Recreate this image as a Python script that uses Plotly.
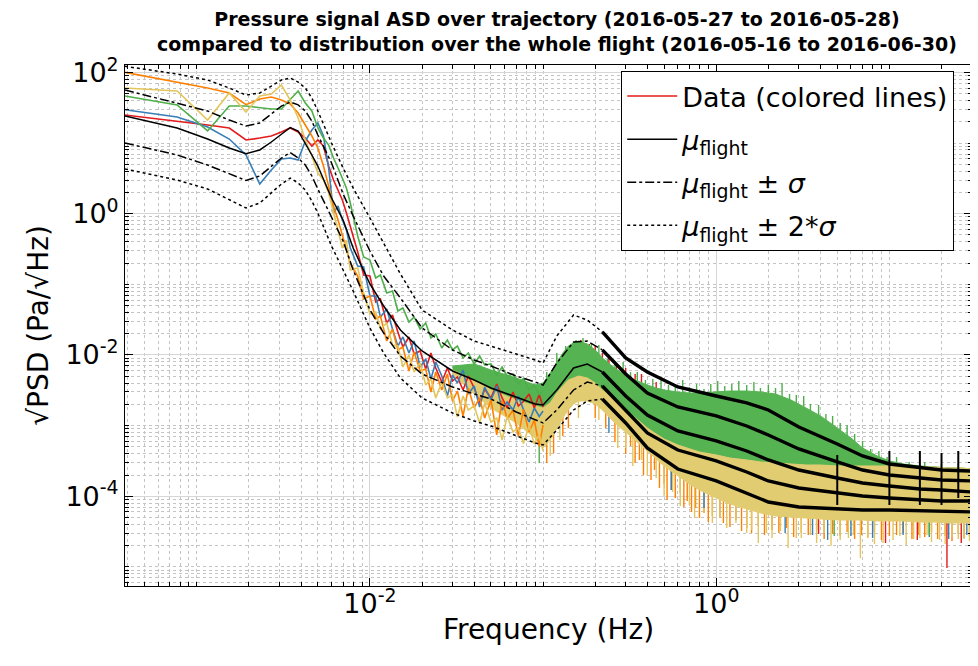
import numpy as np
import plotly.graph_objects as go

# ---------------- statistics of the whole flight (log10 of sqrt(PSD), Pa/sqrt(Hz)) ----------------
f_stat = [0.000385, 0.00077, 0.001155, 0.00154, 0.001925, 0.00231, 0.002695, 0.00308, 0.003465, 0.00385,
          0.004235, 0.00462, 0.005, 0.006, 0.007, 0.008, 0.01, 0.012, 0.015, 0.02, 0.03, 0.04, 0.05, 0.07,
          0.09, 0.1, 0.12, 0.15, 0.18, 0.22, 0.3, 0.4, 0.6, 1, 1.5, 2, 3, 5, 7, 10, 15, 20, 30]
lg_mu_p2 = [2.086, 1.977, 1.892, 1.779, 1.680, 1.708, 1.807, 1.892, 1.921, 1.864, 1.779, 1.638,
            1.454, 1.001, 0.647, 0.364, -0.061, -0.415, -0.853, -1.363, -1.646, -1.802, -1.872, -1.986,
            -2.071, -2.113, -1.731, -1.434, -1.505, -1.674, -2.042, -2.240, -2.453, -2.580, -2.679, -2.778,
            -3.019, -3.260, -3.429, -3.543, -3.599, -3.628, -3.642]
lg_mu_p1 = [1.751, 1.567, 1.454, 1.326, 1.241, 1.284, 1.411, 1.524, 1.581, 1.540, 1.454, 1.312,
            1.114, 0.718, 0.279, -0.033, -0.528, -0.882, -1.193, -1.618, -1.929, -2.071, -2.156, -2.297,
            -2.382, -2.425, -2.113, -1.816, -1.802, -1.929, -2.269, -2.538, -2.736, -2.863, -3.005, -3.132,
            -3.330, -3.514, -3.628, -3.698, -3.741, -3.769, -3.783]
lg_mu = [1.383, 1.213, 1.057, 0.930, 0.849, 0.902, 1.015, 1.128, 1.220, 1.171, 1.001, 0.831,
         0.675, 0.222, -0.089, -0.485, -0.995, -1.306, -1.646, -1.943, -2.226, -2.354, -2.467, -2.594,
         -2.693, -2.707, -2.495, -2.184, -2.127, -2.241, -2.580, -2.849, -3.076, -3.217, -3.359, -3.486,
         -3.628, -3.741, -3.812, -3.854, -3.896, -3.911, -3.939]
lg_mu_m1 = [1.001, 0.831, 0.689, 0.562, 0.470, 0.534, 0.675, 0.788, 0.866, 0.788, 0.689, 0.534,
            0.350, -0.061, -0.386, -0.797, -1.363, -1.689, -2.014, -2.269, -2.453, -2.552, -2.623, -2.807,
            -2.920, -2.962, -2.778, -2.495, -2.382, -2.439, -2.793, -3.104, -3.345, -3.500, -3.656, -3.783,
            -3.882, -3.953, -3.996, -4.024, -4.052, -4.066, -4.066]
lg_mu_m2 = [0.633, 0.477, 0.350, 0.194, 0.081, 0.151, 0.293, 0.420, 0.505, 0.435, 0.335, 0.180,
            0.010, -0.457, -0.797, -1.094, -1.618, -1.972, -2.326, -2.608, -2.821, -2.934, -3.005, -3.146,
            -3.246, -3.274, -3.062, -2.778, -2.651, -2.623, -2.962, -3.316, -3.614, -3.783, -3.953, -4.081,
            -4.151, -4.180, -4.194, -4.194, -4.208, -4.208, -4.222]
# narrow lines at the harmonics of 5 Hz
harm_f = [5, 10, 15, 20, 25]
harm_lo = [-4.123, -4.123, -4.123, -4.123, -4.024]
harm_hi = [-3.415, -3.359, -3.359, -3.387, -3.359]

# ---------------- trajectory data, individual lines (low / mid frequencies) ----------------
f_data = [0.000385, 0.00077, 0.001155, 0.00154, 0.001925, 0.00231, 0.002695, 0.00308, 0.003465, 0.00385,
          0.004235, 0.00462, 0.005005, 0.00539, 0.005775, 0.00616, 0.006545, 0.00693, 0.007315, 0.0077,
          0.0085, 0.0092, 0.01, 0.0108, 0.0115, 0.0125, 0.0135, 0.0145, 0.0155, 0.0168,
          0.018, 0.0195, 0.021, 0.0225, 0.024, 0.026, 0.028, 0.030, 0.032, 0.0345,
          0.037, 0.040, 0.043, 0.046, 0.050, 0.054, 0.058, 0.062, 0.067, 0.072,
          0.077, 0.083, 0.089, 0.095, 0.1]
lg_red = [1.397, 1.312, 1.255, 1.213, 1.043, 1.071, 1.100, 1.156, 1.213, 1.156, 1.071, 0.958, 1.043, 0.958,
          0.675, 0.477, 0.335, 0.194, 0.010, -0.174,
          -0.542, -0.868, -0.882, -1.250, -1.207, -1.547, -1.434, -1.674, -1.887, -1.745,
          -1.986, -1.943, -2.198, -1.972, -2.184, -2.382, -2.184, -2.368, -2.311, -2.495,
          -2.297, -2.467, -2.679, -2.481, -2.608, -2.410, -2.608, -2.750, -2.524, -2.722,
          -2.658, -2.552, -2.750, -2.559, -2.736]
lg_blue = [1.472, 1.369, 1.227, 1.057, 0.831, 0.420, 0.619, 0.774, 0.788, 0.760, 1.029, 1.185, 1.284, 1.100,
           0.647, 0.010, 0.109, -0.089, -0.231, -0.485,
           -0.740, -0.754, -1.165, -1.165, -1.462, -1.349, -1.632, -1.873, -1.745, -1.972,
           -1.802, -2.170, -2.057, -2.340, -2.099, -2.297, -2.580, -2.283, -2.396, -2.212,
           -2.552, -2.439, -2.736, -2.453, -2.637, -2.439, -2.778, -2.665, -2.778, -2.580,
           -2.771, -2.948, -2.750, -2.870, -2.793]
lg_green = [1.666, 1.539, 1.171, 1.524, 1.524, 1.496, 1.482, 1.482, 1.609, 1.737, 1.567, 1.454, 1.213, 1.071,
            0.972, 0.788, 0.647, 0.505, 0.364, 0.151,
            -0.316, -0.613, -0.655, -0.910, -0.868, -1.122, -1.094, -1.377, -1.335, -1.533,
            -1.462, -1.632, -1.547, -1.759, -1.703, -1.901, -1.788, -1.929, -1.873, -2.042,
            -1.972, -2.127, -2.014, -2.141, -2.127, -2.283, -2.170, -2.297, -2.269, -2.410,
            -2.333, -2.495, -2.425, -2.559, -2.510]
lg_orange = [2.001, 1.864, 1.779, 1.708, 1.543, 1.623, 1.652, 1.609, 1.553, 1.425, 1.255, 1.100, 0.930, 0.675,
             0.392, 0.109, -0.089, -0.316, -0.528, -0.698,
             -0.882, -1.207, -1.165, -1.490, -1.448, -1.802, -1.632, -1.929, -1.887, -2.226,
             -1.958, -2.226, -2.198, -2.524, -2.241, -2.495, -2.269, -2.651, -2.510, -2.863,
             -2.467, -2.750, -2.608, -2.892, -2.637, -3.132, -2.637, -2.906, -2.778, -3.147,
             -2.771, -3.090, -2.920, -3.295, -2.991]
lg_yellow = [1.779, 1.737, 1.326, 1.708, 1.439, 1.666, 1.694, 1.822, 1.609, 1.355, 1.043, 0.817, 0.576, 0.477,
             0.293, 0.010, -0.273, -0.485, -0.372, -0.797,
             -0.769, -1.122, -1.420, -1.391, -1.632, -1.547, -1.858, -1.873, -2.170, -2.000,
             -2.241, -2.113, -2.425, -2.340, -2.608, -2.382, -2.608, -2.566, -2.878, -2.580,
             -2.778, -2.722, -2.962, -2.679, -2.948, -2.892, -3.203, -2.863, -3.090, -3.033,
             -3.253, -3.005, -3.260, -3.125, -3.359]

# ---------------- trajectory data above 0.03 Hz: dense noise envelopes ----------------
f_hi = [0.03, 0.04, 0.05, 0.07, 0.09,
        0.1, 0.11, 0.12, 0.13, 0.14, 0.15, 0.16, 0.18, 0.2, 0.22, 0.25, 0.28, 0.32, 0.36, 0.4, 0.45, 0.5,
        0.6, 0.7, 0.8, 1.0, 1.2, 1.5, 1.8, 2.2, 2.7, 3.3, 4, 5, 6, 7, 8.5, 10, 12, 15, 18, 22, 26, 30]
lg_green_top = [-2.156, -2.127, -2.212, -2.326, -2.425,
                -2.396, -2.255, -2.113, -1.972, -1.873, -1.830, -1.802, -1.844, -1.929, -2.042, -2.156, -2.241,
                -2.326, -2.382, -2.425, -2.467, -2.495, -2.524, -2.538, -2.538, -2.524, -2.510, -2.510, -2.524,
                -2.552, -2.637, -2.750, -2.863, -3.033, -3.175, -3.316, -3.429, -3.500, -3.543, -3.571, -3.585,
                -3.599, -3.614, -3.614]
lg_green_bot = [-2.212, -2.354, -2.495, -2.637, -2.722,
                -2.750, -2.679, -2.538, -2.439, -2.354, -2.326, -2.297, -2.326, -2.396, -2.495, -2.608, -2.722,
                -2.835, -2.934, -3.033, -3.118, -3.189, -3.274, -3.330, -3.373, -3.415, -3.458, -3.486, -3.514,
                -3.528, -3.543, -3.557, -3.557, -3.571, -3.571, -3.571, -3.571, -3.571, -3.571, -3.585, -3.585,
                -3.599, -3.599, -3.614]
lg_yellow_bot = [-2.269, -2.552, -2.750, -2.962, -3.175,
                 -3.316, -3.203, -3.033, -2.892, -2.778, -2.693, -2.651, -2.651, -2.693, -2.778, -2.920, -3.033,
                 -3.147, -3.260, -3.359, -3.472, -3.571, -3.713, -3.826, -3.911, -4.024, -4.109, -4.180, -4.236,
                 -4.279, -4.293, -4.307, -4.321, -4.336, -4.336, -4.336, -4.350, -4.350, -4.350, -4.364, -4.364,
                 -4.378, -4.378, -4.378]

# individual spikes sticking out of the noise bands: frequency, base (inside band), tip
green_sp_f = [0.105, 0.12, 0.135, 0.155, 0.17, 0.19, 0.21, 0.235, 0.26, 0.29, 0.32, 0.35, 0.39, 0.43, 0.48,
              0.53, 0.58, 0.64, 0.7, 0.77, 0.85, 0.93, 1.02, 1.12, 1.23, 1.35, 1.5, 1.65, 1.8, 2.0, 2.2, 2.4,
              2.65, 2.9, 3.2, 3.5, 3.9, 4.3, 4.7, 5.2, 5.7, 6.3, 7, 7.8, 8.7, 9.7, 11, 13, 16, 20, 25]
green_sp_base = [-2.467, -2.255, -2.071, -1.972, -1.958, -2.014, -2.127, -2.241, -2.326, -2.396, -2.467, -2.510,
                 -2.552, -2.594, -2.623, -2.637, -2.651, -2.665, -2.679, -2.679, -2.679, -2.665, -2.665, -2.651,
                 -2.651, -2.651, -2.651, -2.651, -2.665, -2.679, -2.693, -2.722, -2.764, -2.821, -2.878, -2.920,
                 -2.976, -3.033, -3.118, -3.189, -3.260, -3.330, -3.458, -3.528, -3.585, -3.628, -3.656, -3.698,
                 -3.713, -3.727, -3.741]
green_sp_tip = [-2.241, -1.972, -1.873, -1.788, -1.759, -1.844, -1.858, -2.057, -2.085, -2.099, -2.241, -2.241,
                -2.354, -2.340, -2.340, -2.425, -2.410, -2.354, -2.453, -2.410, -2.481, -2.410, -2.368, -2.439,
                -2.410, -2.368, -2.425, -2.382, -2.467, -2.425, -2.467, -2.396, -2.552, -2.566, -2.580, -2.693,
                -2.707, -2.835, -2.863, -2.962, -2.991, -3.118, -3.217, -3.330, -3.359, -3.444, -3.444, -3.514,
                -3.514, -3.543, -3.543]
orange_sp_f = [0.105, 0.115, 0.13, 0.14, 0.2, 0.23, 0.26, 0.3, 0.34, 0.38, 0.42, 0.47, 0.52, 0.58, 0.65, 0.72,
               0.8, 0.9, 1.05, 1.2, 1.4, 1.6, 1.9, 2.3, 2.8, 3.4, 4.2, 5.2, 6.3, 7.5, 9, 11, 13.5, 16, 19, 23, 27,
               0.32, 0.36, 0.44, 0.5, 0.55, 0.62, 0.68, 0.76, 0.85, 0.95, 1.1, 1.3, 1.5, 1.75, 2.1, 2.55, 3.1,
               3.8, 4.7, 5.7, 6.9, 8.2, 10, 12, 14.8, 17.5, 21, 25, 29]
orange_sp_base = [-3.147, -3.005, -2.778, -2.665, -2.580, -2.693, -2.835, -2.976, -3.090, -3.189, -3.288, -3.387,
                  -3.486, -3.557, -3.656, -3.741, -3.797, -3.854, -3.925, -3.996, -4.052, -4.081, -4.123, -4.166,
                  -4.180, -4.194, -4.208, -4.222, -4.222, -4.236, -4.236, -4.236, -4.251, -4.251, -4.251, -4.265,
                  -4.265,
                  -3.005, -3.118, -3.302, -3.429, -3.500, -3.585, -3.656, -3.741, -3.797, -3.854, -3.925, -3.996,
                  -4.038, -4.081, -4.123, -4.151, -4.166, -4.180, -4.194, -4.194, -4.194, -4.208, -4.208, -4.208,
                  -4.222, -4.222, -4.236, -4.236, -4.236]
orange_sp_tip = [-3.528, -3.387, -3.147, -3.033, -2.892, -3.033, -3.231, -3.401, -3.528, -3.698, -3.769, -3.882,
                 -4.052, -4.024, -4.151, -4.222, -4.307, -4.364, -4.307, -4.434, -4.491, -4.519, -4.548, -4.519,
                 -4.576, -4.548, -4.604, -4.562, -4.604, -4.576, -4.618, -4.548, -4.604, -4.576, -4.604, -4.633,
                 -4.590,
                 -3.288, -3.486, -3.628, -3.826, -3.911, -3.953, -4.066, -4.166, -4.236, -4.279, -4.378, -4.336,
                 -4.449, -4.420, -4.477, -4.449, -4.519, -4.477, -4.533, -4.505, -4.548, -4.505, -4.562, -4.519,
                 -4.548, -4.505, -4.562, -4.533, -4.562]
yellow_sp_f = [0.11, 0.125, 0.16, 0.21, 0.27, 0.33, 0.4, 0.5, 0.62, 0.75, 0.95, 1.15, 1.5, 1.75, 2.1, 2.6, 3.1,
               3.8, 4.6, 5.8, 6.8, 8.2, 10.5, 12.5, 15, 17.5, 21, 25, 29,
               0.3, 0.37, 0.45, 0.56, 0.7, 0.85, 1.05, 1.3, 1.6, 1.95, 2.35, 2.9, 3.5, 4.2, 5.2, 6.2, 7.5, 9.2,
               11.5, 13.8, 16.5, 19.5, 23, 27]
yellow_sp_base = [-3.090, -2.849, -2.538, -2.623, -2.892, -3.062, -3.245, -3.458, -3.614, -3.755, -3.882, -3.967,
                  -4.066, -4.109, -4.151, -4.166, -4.180, -4.194, -4.208, -4.222, -4.222, -4.236, -4.236, -4.251,
                  -4.251, -4.251, -4.265, -4.265, -4.265,
                  -2.948, -3.147, -3.330, -3.514, -3.684, -3.797, -3.896, -3.996, -4.052, -4.109, -4.137, -4.151,
                  -4.166, -4.180, -4.194, -4.194, -4.194, -4.208, -4.208, -4.222, -4.222, -4.222, -4.236, -4.236]
yellow_sp_tip = [-3.429, -3.203, -2.892, -2.920, -3.316, -3.571, -3.713, -3.996, -4.137, -4.307, -4.378, -4.449,
                 -4.519, -4.661, -4.590, -4.732, -4.590, -4.661, -4.703, -4.590, -4.873, -4.675, -4.618, -4.689,
                 -4.590, -4.647, -4.675, -4.604, -4.633,
                 -3.316, -3.486, -3.741, -3.939, -4.123, -4.236, -4.307, -4.378, -4.477, -4.519, -4.491, -4.590,
                 -4.548, -4.519, -4.618, -4.548, -4.590, -4.661, -4.562, -4.604, -4.548, -4.618, -4.576, -4.604]
blue_sp_f = [0.155, 0.175, 0.21, 0.24, 0.26, 0.55, 0.85, 2.5, 3.6, 4.4, 6, 8, 12, 17, 22, 28]
blue_sp_base = [-2.184, -2.184, -2.297, -2.750, -2.467, -3.528, -3.826, -4.166, -4.194, -4.208, -4.222, -4.236,
                -4.236, -4.251, -4.265, -4.265]
blue_sp_tip = [-1.830, -1.901, -2.014, -3.104, -2.184, -3.911, -4.166, -4.519, -4.548, -4.618, -4.562, -4.590,
               -4.548, -4.576, -4.604, -4.548]
red_sp_f = [0.165, 0.185, 0.2, 0.22, 0.24, 0.265, 0.3, 0.34, 0.37, 0.45, 0.9, 1.3, 3.9, 9.5, 14.5, 21.5, 26]
red_sp_base = [-2.184, -2.184, -2.255, -2.326, -2.396, -2.467, -2.580, -2.679, -2.750, -2.892, -3.175, -3.316,
               -4.194, -4.236, -4.251, -4.265, -4.265]
red_sp_tip = [-1.788, -1.844, -1.872, -1.972, -2.042, -2.127, -2.184, -2.269, -2.269, -2.382, -2.623, -2.679,
              -4.533, -4.661, -4.618, -5.015, -4.661]
greenlow_sp_f = [0.095, 4.8, 17]
greenlow_sp_base = [-3.175, -4.208, -4.251]
greenlow_sp_tip = [-3.528, -4.562, -4.548]

# ---------------- styling ----------------
C_RED, C_BLUE, C_GREEN, C_ORANGE, C_YELLOW = "#e41a1c", "#377eb8", "#4daf4a", "#ff7f00", "#e3c55a"
C_GREEN_BAND, C_YELLOW_BAND = "#56b352", "#e2cc72"
FONT = "DejaVu Sans"


def p10(a):
    return [10 ** v for v in a]


def spikes(f, base, tip):
    xs, ys = [], []
    for fi, b, t in zip(f, base, tip):
        xs += [fi, fi, None]
        ys += [10 ** b, 10 ** t, None]
    return xs, ys


fig = go.Figure()

# spikes first, so that the bands hide their bases
for sf, sb, st, col in [(orange_sp_f, orange_sp_base, orange_sp_tip, C_ORANGE),
                        (yellow_sp_f, yellow_sp_base, yellow_sp_tip, C_YELLOW),
                        (blue_sp_f, blue_sp_base, blue_sp_tip, C_BLUE),
                        (red_sp_f, red_sp_base, red_sp_tip, C_RED),
                        (greenlow_sp_f, greenlow_sp_base, greenlow_sp_tip, C_GREEN),
                        (green_sp_f, green_sp_base, green_sp_tip, C_GREEN)]:
    xs, ys = spikes(sf, sb, st)
    fig.add_trace(go.Scatter(x=xs, y=ys, mode="lines", line=dict(color=col, width=1.4),
                             showlegend=False, hoverinfo="skip"))

# noise bands
fig.add_trace(go.Scatter(x=f_hi + f_hi[::-1], y=p10(lg_green_top) + p10(lg_green_bot)[::-1],
                         fill="toself", fillcolor=C_GREEN_BAND, mode="lines",
                         line=dict(color=C_GREEN_BAND, width=1), showlegend=False, hoverinfo="skip"))
fig.add_trace(go.Scatter(x=f_hi + f_hi[::-1], y=p10(lg_green_bot) + p10(lg_yellow_bot)[::-1],
                         fill="toself", fillcolor=C_YELLOW_BAND, mode="lines",
                         line=dict(color=C_YELLOW_BAND, width=1), showlegend=False, hoverinfo="skip"))

# individual data lines
for name, lg, col, show in [("Data (colored lines)", lg_red, C_RED, True),
                            ("blue", lg_blue, C_BLUE, False),
                            ("green", lg_green, C_GREEN, False),
                            ("orange", lg_orange, C_ORANGE, False),
                            ("yellow", lg_yellow, C_YELLOW, False)]:
    fig.add_trace(go.Scatter(x=f_data, y=p10(lg), mode="lines", name=name,
                             line=dict(color=col, width=1.6), showlegend=show,
                             legendgroup="g1" if show else None, legendrank=1, hoverinfo="skip"))

# statistics curves: thin styled part (low f) and thick part (high f)
MU = "<i>\u03bc</i><sub>flight</sub>"
split = f_stat.index(0.22)
curves = [(lg_mu, "solid", MU, 2), (lg_mu_p1, "dashdot", MU + " \u00b1 <i>\u03c3</i>", 3),
          (lg_mu_m1, "dashdot", None, 3), (lg_mu_p2, "dot", MU + " \u00b1 2*<i>\u03c3</i>", 4),
          (lg_mu_m2, "dot", None, 4)]
for lg, dash, name, rank in curves:
    fig.add_trace(go.Scatter(x=f_stat[:split + 1], y=p10(lg[:split + 1]), mode="lines",
                             line=dict(color="black", width=1.5, dash=dash), name=name or "",
                             showlegend=name is not None, legendgroup="g%d" % rank, legendrank=rank,
                             hoverinfo="skip"))
    fig.add_trace(go.Scatter(x=f_stat[split:], y=p10(lg[split:]), mode="lines",
                             line=dict(color="black", width=3.4), showlegend=False, hoverinfo="skip"))
xs, ys = spikes(harm_f, harm_lo, harm_hi)
fig.add_trace(go.Scatter(x=xs, y=ys, mode="lines", line=dict(color="black", width=2),
                         showlegend=False, hoverinfo="skip"))

# ---------------- axes ----------------
def minor_vals(lo, hi):
    out = []
    for e in range(lo, hi + 1):
        for m in range(1, 10):
            out.append(m * 10.0 ** e)
    return out

x_major = [1e-2, 1]
y_major = [1e-4, 1e-2, 1, 1e2]
x_minor = [v for v in minor_vals(-4, 1) if all(abs(v - M) > 1e-12 * M for M in x_major)]
y_minor = [v for v in minor_vals(-6, 2) if all(abs(v - M) > 1e-9 * M for M in y_major)]

axis_common = dict(type="log", showline=True, linecolor="black", linewidth=1, mirror="allticks",
                   ticks="inside", ticklen=8, tickcolor="black", showgrid=True, gridcolor="#d6d6d6",
                   gridwidth=1, zeroline=False, tickfont=dict(family=FONT, size=27, color="black"),
                   title_font=dict(family=FONT, size=28, color="black"))

fig.update_xaxes(**axis_common, range=[np.log10(0.000385), np.log10(30)],
                 tickmode="array", tickvals=x_major, ticktext=["10<sup>-2</sup>", "10<sup>0</sup>"],
                 minor=dict(tickmode="array", tickvals=x_minor, ticks="inside", ticklen=4,
                            tickcolor="black", showgrid=True, gridcolor="#c4c4c4", griddash="dot"),
                 ticklabelstandoff=-6,
                 title_text="Frequency (Hz)", title_standoff=0)
fig.update_yaxes(**axis_common, range=[-5.27, 2.105],
                 tickmode="array", tickvals=y_major,
                 ticktext=["10<sup>-4</sup>", "10<sup>-2</sup>", "10<sup>0</sup>", "10<sup>2</sup>"],
                 minor=dict(tickmode="array", tickvals=y_minor, ticks="inside", ticklen=4,
                            tickcolor="black", showgrid=True, gridcolor="#c4c4c4", griddash="dot"),
                 title_text="\u221aPSD (Pa/\u221aHz)", title_standoff=8)

fig.update_layout(
    width=978, height=666, margin=dict(l=117, r=14, t=57, b=88),
    paper_bgcolor="white", plot_bgcolor="white",
    title=dict(text="<b>Pressure signal ASD over trajectory (2016-05-27 to 2016-05-28)<br>"
                    "compared to distribution over the whole flight (2016-05-16 to 2016-06-30)</b>",
               x=0.51, xref="paper", xanchor="center", y=0.973, yref="container", yanchor="middle",
               font=dict(family=FONT, size=19, color="black")),
    legend=dict(x=0.979, y=0.9885, xanchor="right", yanchor="top", bgcolor="white",
                bordercolor="black", borderwidth=1, font=dict(family=FONT, size=27, color="black"),
                traceorder="grouped", tracegroupgap=5, itemwidth=50),
    showlegend=True,
)

fig.write_html("out.html")
